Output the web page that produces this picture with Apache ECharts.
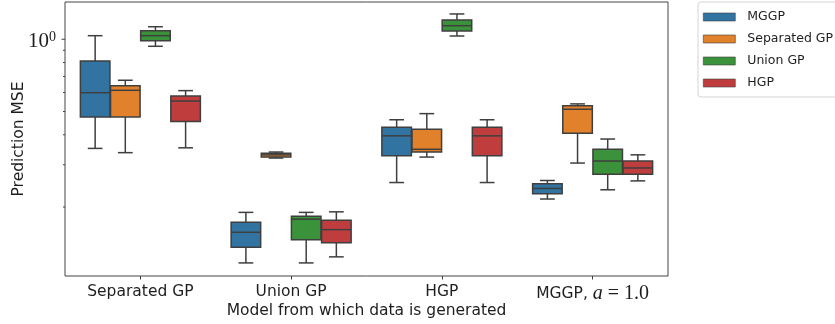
<!DOCTYPE html>
<html>
<head>
<meta charset="utf-8">
<script src="https://cdn.jsdelivr.net/npm/echarts@6/dist/echarts.min.js"></script>
<style>
  html, body { margin: 0; padding: 0; background: #ffffff; }
  #chart { width: 835px; height: 324px; }
</style>
</head>
<body>
<div id="chart"></div>
<script>
// Data-generating models along the x axis
const categories = ['Separated GP', 'Union GP', 'HGP', 'MGGP, a = 1.0'];

// Fitted models (one box per model within each category)
const seriesNames = ['MGGP', 'Separated GP', 'Union GP', 'HGP'];
const seriesColors = ['#3274A1', '#E1812C', '#3A923A', '#C03D3E'];

// Box statistics per category: [lower whisker, Q1, median, Q3, upper whisker]
const mggpStats = [
  [0.351, 0.475, 0.599, 0.812, 1.035],
  [0.117, 0.136, 0.157, 0.173, 0.190],
  [0.253, 0.327, 0.396, 0.430, 0.462],
  [0.216, 0.227, 0.239, 0.250, 0.258]
];
const separatedGpStats = [
  [0.337, 0.475, 0.613, 0.641, 0.675],
  [0.320, 0.323, 0.330, 0.335, 0.339],
  [0.323, 0.339, 0.348, 0.422, 0.490],
  [0.305, 0.406, 0.511, 0.528, 0.538]
];
const unionGpStats = [
  [0.935, 0.987, 1.035, 1.086, 1.128],
  [0.117, 0.146, 0.178, 0.183, 0.190],
  [1.032, 1.083, 1.139, 1.204, 1.275],
  [0.236, 0.274, 0.311, 0.348, 0.384]
];
const hgpStats = [
  [0.353, 0.454, 0.553, 0.580, 0.611],
  [0.124, 0.142, 0.161, 0.176, 0.191],
  [0.253, 0.327, 0.396, 0.430, 0.462],
  [0.257, 0.274, 0.291, 0.311, 0.330]
];

// Log-axis tick positions (major at 10^0, minor below it)
const majorTickValues = [1];
const minorTickValues = [0.2, 0.3, 0.4, 0.5, 0.6, 0.7, 0.8, 0.9];

const yMin = 0.1032;
const yMax = 1.430;

const allStats = [mggpStats, separatedGpStats, unionGpStats, hgpStats];
const LINE = '#3f3f3f';
const SANS = 'DejaVu Sans';
const SERIF = 'Liberation Serif';
const TEXT = '#1e1e1e';

function boxRenderer(k, nSeries) {
  return function (params, api) {
    const ci = api.value(0);
    const band = api.size([1, 0])[0];
    const slot = band * 0.8 / nSeries;
    const boxW = slot * 0.98;
    const pLow = api.coord([ci, api.value(1)]);
    const pQ1 = api.coord([ci, api.value(2)]);
    const pMed = api.coord([ci, api.value(3)]);
    const pQ3 = api.coord([ci, api.value(4)]);
    const pHigh = api.coord([ci, api.value(5)]);
    const cx = pLow[0] + (k - (nSeries - 1) / 2) * slot;
    const half = boxW / 2;
    const cap = boxW / 4;
    const lineStyle = { stroke: LINE, lineWidth: 1.5, fill: null };
    return {
      type: 'group',
      children: [
        { type: 'line', shape: { x1: cx, y1: pQ3[1], x2: cx, y2: pHigh[1] }, style: lineStyle },
        { type: 'line', shape: { x1: cx, y1: pQ1[1], x2: cx, y2: pLow[1] }, style: lineStyle },
        { type: 'line', shape: { x1: cx - cap, y1: pHigh[1], x2: cx + cap, y2: pHigh[1] }, style: lineStyle },
        { type: 'line', shape: { x1: cx - cap, y1: pLow[1], x2: cx + cap, y2: pLow[1] }, style: lineStyle },
        {
          type: 'rect',
          shape: { x: cx - half, y: pQ3[1], width: boxW, height: pQ1[1] - pQ3[1] },
          style: { fill: seriesColors[k], stroke: LINE, lineWidth: 1.5 }
        },
        { type: 'line', shape: { x1: cx - half, y1: pMed[1], x2: cx + half, y2: pMed[1] }, style: lineStyle }
      ]
    };
  };
}

const boxSeries = seriesNames.map(function (name, k) {
  return {
    name: name,
    type: 'custom',
    renderItem: boxRenderer(k, seriesNames.length),
    itemStyle: { color: seriesColors[k], borderColor: LINE },
    encode: { x: 0, y: [1, 2, 3, 4, 5] },
    data: allStats[k].map(function (s, ci) { return [ci].concat(s); }),
    z: 2
  };
});

// Y-axis tick marks drawn against the log scale
const tickSeries = {
  name: 'yTicks',
  type: 'custom',
  silent: true,
  clip: false,
  renderItem: function (params, api) {
    const v = api.value(1);
    const p = api.coord([0, v]);
    const x0 = params.coordSys.x;
    const len = api.value(2) ? 3.5 : 2;
    return {
      type: 'line',
      shape: { x1: x0 - len, y1: p[1], x2: x0, y2: p[1] },
      style: { stroke: LINE, lineWidth: 1 }
    };
  },
  encode: { x: 0, y: 1 },
  data: majorTickValues.map(function (v) { return [0, v, 1]; })
    .concat(minorTickValues.map(function (v) { return [0, v, 0]; })),
  z: 3
};

const chart = echarts.init(document.getElementById('chart'), null, { renderer: 'canvas' });
chart.setOption({
  animation: false,
  color: seriesColors,
  grid: {
    left: 65, right: 167, top: 2, bottom: 48,
    containLabel: false,
    outerBoundsMode: 'none',
    show: true, borderColor: '#444444', borderWidth: 1, backgroundColor: 'transparent'
  },
  legend: {
    data: seriesNames.map(function (n) { return { name: n, icon: 'rect' }; }),
    orient: 'vertical',
    left: 698, top: 2,
    itemWidth: 32, itemHeight: 8, itemGap: 8,
    padding: [8, 20, 7, 5],
    borderColor: '#d4d4d4', borderWidth: 1, borderRadius: 3,
    backgroundColor: '#ffffff',
    itemStyle: { borderColor: LINE, borderWidth: 0.6 },
    textStyle: { fontFamily: SANS, fontSize: 12.5, color: TEXT, lineHeight: 14, padding: [0, 0, 0, 7] }
  },
  xAxis: {
    type: 'category',
    data: categories,
    name: 'Model from which data is generated',
    nameLocation: 'middle',
    nameGap: 27,
    nameMoveOverlap: false,
    nameTextStyle: { fontFamily: SANS, fontSize: 15.5, color: TEXT },
    axisLine: { show: false },
    axisTick: { show: true, alignWithLabel: true, length: 3.5, lineStyle: { color: LINE, width: 1 } },
    axisLabel: {
      interval: 0,
      margin: 8,
      color: TEXT,
      fontFamily: SANS,
      fontSize: 15.5,
      formatter: function (v) {
        if (v === 'MGGP, a = 1.0') return '{s|MGGP, }{m|a}{r| = 1.0}';
        return v;
      },
      rich: {
        s: { fontFamily: SANS, fontSize: 15.5, color: TEXT },
        m: { fontFamily: SERIF, fontStyle: 'italic', fontSize: 20, color: TEXT },
        r: { fontFamily: SERIF, fontSize: 20, color: TEXT }
      }
    },
    splitLine: { show: false }
  },
  yAxis: {
    type: 'log',
    logBase: 10,
    min: yMin,
    max: yMax,
    name: 'Prediction MSE',
    nameLocation: 'middle',
    nameGap: 38,
    nameMoveOverlap: false,
    nameTextStyle: { fontFamily: SANS, fontSize: 15.5, color: TEXT },
    axisLine: { show: false },
    axisTick: { show: false },
    splitLine: { show: false },
    axisLabel: {
      margin: 9,
      padding: [4, 0, 0, 0],
      formatter: function (v) {
        return Math.abs(v - 1) < 1e-6 ? '{n|10}{e|0}' : '';
      },
      rich: {
        n: { fontFamily: SERIF, fontSize: 21, lineHeight: 22, color: TEXT, verticalAlign: 'middle' },
        e: { fontFamily: SERIF, fontSize: 14, lineHeight: 14, color: TEXT, verticalAlign: 'top' }
      }
    }
  },
  series: boxSeries.concat([tickSeries])
});
</script>
</body>
</html>
